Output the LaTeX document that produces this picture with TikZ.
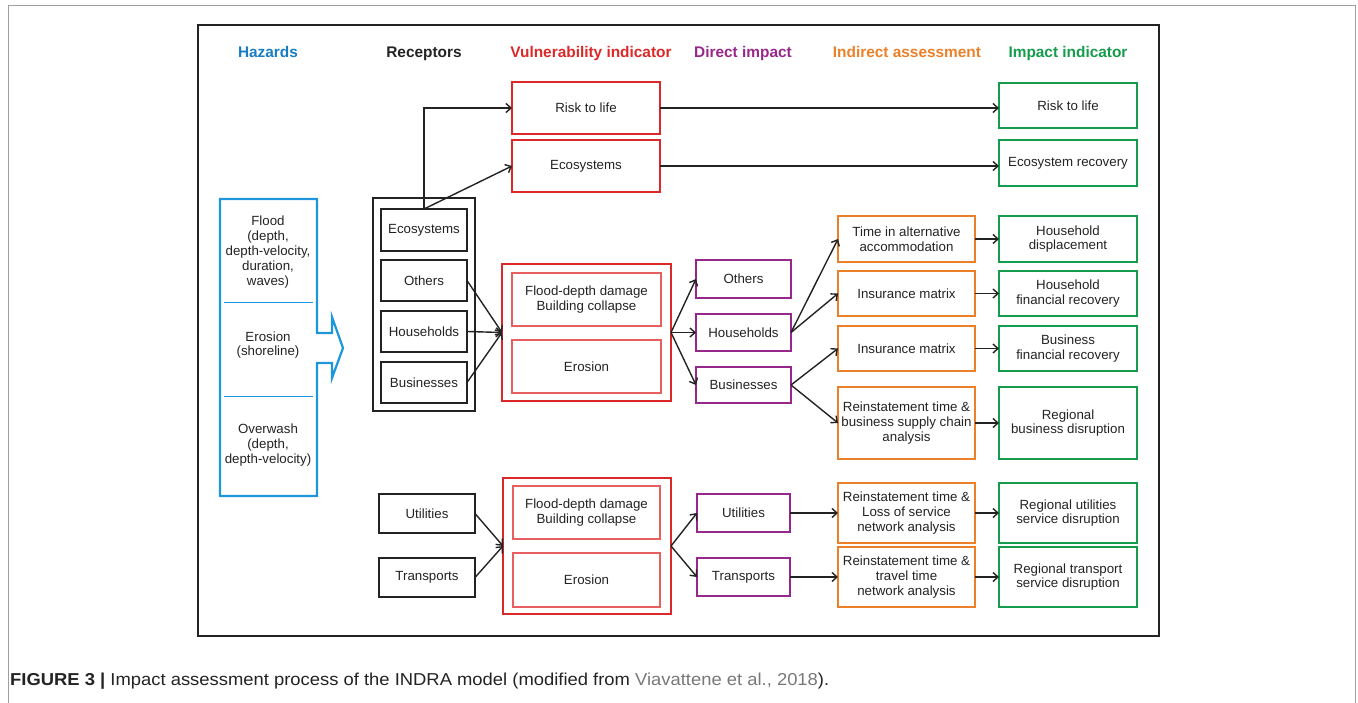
\documentclass[tikz,border=0pt]{standalone}
\usepackage{fontspec}
\setmainfont{Liberation Sans}
\usetikzlibrary{arrows.meta}

\definecolor{hzblue}{RGB}{30,150,220}
\definecolor{hztitle}{RGB}{25,125,195}
\definecolor{vred}{RGB}{220,40,40}
\definecolor{vredlt}{RGB}{232,95,95}
\definecolor{dpurple}{RGB}{150,40,140}
\definecolor{iorange}{RGB}{236,128,40}
\definecolor{kgreen}{RGB}{20,155,75}
\definecolor{ink}{RGB}{35,35,35}
\definecolor{cite}{RGB}{120,120,120}

\newcommand\bodyfont{\fontsize{13.3}{14.8}\selectfont}
\newcommand\titlefont{\bfseries\fontsize{15.4}{18}\selectfont}

% box from its corners: name, style, x1, y1, x2, y2, text
\newcommand\bx[7]{%
  \node[#2, minimum width={#5-#3}, minimum height={#6-#4}]
    (#1) at ({(#3+#5)/2},{(#4+#6)/2}) {#7};}

\tikzset{
  box/.style={draw, inner sep=0pt, outer sep=0pt, align=center,
              font=\bodyfont, text=ink},
  rec/.style={box, draw=ink, line width=1.2pt},
  recthick/.style={box, draw=ink, line width=2.6pt},
  vul/.style={box, draw=vred, line width=2.2pt},
  vulin/.style={box, draw=vredlt, line width=1.3pt},
  dir/.style={box, draw=dpurple, line width=2.2pt},
  ind/.style={box, draw=iorange, line width=2.2pt},
  imp/.style={box, draw=kgreen, line width=2.2pt},
  ttl/.style={font=\titlefont, inner sep=0pt, anchor=base},
  link/.style={draw=ink, line width=1.4pt,
               -{Straight Barb[length=5pt,width=9pt]}},
}

\begin{document}
\begin{tikzpicture}[x=1pt, y=-1pt]
\useasboundingbox (0,0) rectangle (1358,703);

% page and figure frames
\draw[gray!75, line width=1pt] (8,703) -- (8,6) -- (1355,6) -- (1355,703);
\draw[ink, line width=2pt] (198,25) rectangle (1159,636);

% column titles
\node[ttl, text=hztitle] (tHaz) at (268,58) {Hazards};
\node[ttl, text=ink] (tRec) at (424,58) {Receptors};
\node[ttl, text=vred] (tVul) at (591,58) {Vulnerability indicator};
\node[ttl, text=dpurple] (tDir) at (743,58) {Direct impact};
\node[ttl, text=iorange] (tInd) at (907,58) {Indirect assessment};
\node[ttl, text=kgreen] (tImp) at (1068,58) {Impact indicator};

% hazards block arrow
\draw[hzblue, line width=2.2pt, line join=miter]
  (220,199) -- (317,199) -- (317,333) -- (332,333) -- (332,317)
  -- (343,348) -- (332,378) -- (332,363) -- (317,363) -- (317,496)
  -- (220,496) -- cycle;
\draw[hzblue, line width=1pt] (224,303) -- (313,303);
\draw[hzblue, line width=1pt] (224,396) -- (313,396);
\node[align=center, font=\bodyfont, text=ink, inner sep=0pt] (hFlood) at (268,252)
  {Flood\\(depth,\\depth-velocity,\\duration,\\waves)};
\node[align=center, font=\bodyfont, text=ink, inner sep=0pt] (hEro) at (268,345)
  {Erosion\\(shoreline)};
\node[align=center, font=\bodyfont, text=ink, inner sep=0pt] (hOver) at (268,445)
  {Overwash\\(depth,\\depth-velocity)};

% receptors
\bx{recGroup}{recthick}{373}{198}{475}{411}{}
\bx{rEco}{rec}{381}{209}{467}{251}{Ecosystems}
\bx{rOth}{rec}{381}{260}{467}{301}{Others}
\bx{rHou}{rec}{381}{311}{467}{352}{Households}
\bx{rBus}{rec}{381}{362}{467}{403}{Businesses}
\bx{rUti}{recthick}{379}{494}{475}{533}{Utilities}
\bx{rTra}{recthick}{379}{558}{475}{597}{Transports}

% vulnerability indicators
\bx{vRisk}{vul}{512}{82}{660}{134}{Risk to life}
\bx{vEco}{vul}{512}{140}{660}{192}{Ecosystems}
\bx{vUp}{vul}{502}{264}{671}{401}{}
\bx{vUpA}{vulin}{512}{273}{661}{326}{Flood-depth damage\\Building collapse}
\bx{vUpB}{vulin}{512}{340}{661}{393}{Erosion}
\bx{vLo}{vul}{503}{478}{671}{614}{}
\bx{vLoA}{vulin}{513}{486}{660}{539}{Flood-depth damage\\Building collapse}
\bx{vLoB}{vulin}{513}{553}{660}{607}{Erosion}

% direct impacts
\bx{dOth}{dir}{696}{260}{791}{298}{Others}
\bx{dHou}{dir}{696}{314}{791}{351}{Households}
\bx{dBus}{dir}{696}{367}{791}{403}{Businesses}
\bx{dUti}{dir}{697}{494}{790}{532}{Utilities}
\bx{dTra}{dir}{697}{558}{790}{596}{Transports}

% indirect assessments
\bx{o1}{ind}{838}{216}{975}{262}{Time in alternative\\accommodation}
\bx{o2}{ind}{838}{271}{975}{316}{Insurance matrix}
\bx{o3}{ind}{838}{326}{975}{371}{Insurance matrix}
\bx{o4}{ind}{838}{387}{975}{459}{Reinstatement time \&\\business supply chain\\analysis}
\bx{o5}{ind}{838}{483}{975}{543}{Reinstatement time \&\\Loss of service\\network analysis}
\bx{o6}{ind}{838}{547}{975}{607}{Reinstatement time \&\\travel time\\network analysis}

% impact indicators
\bx{gRisk}{imp}{999}{83}{1137}{128}{Risk to life}
\bx{gEco}{imp}{999}{140}{1137}{186}{Ecosystem recovery}
\bx{g1}{imp}{999}{216}{1137}{262}{Household\\displacement}
\bx{g2}{imp}{999}{271}{1137}{316}{Household\\financial recovery}
\bx{g3}{imp}{999}{326}{1137}{371}{Business\\financial recovery}
\bx{g4}{imp}{999}{387}{1137}{459}{Regional\\business disruption}
\bx{g5}{imp}{999}{483}{1137}{543}{Regional utilities\\service disruption}
\bx{g6}{imp}{999}{547}{1137}{607}{Regional transport\\service disruption}

% connectors
\draw[link] (rEco.north) |- (vRisk.west);
\draw[link] (rEco.north) -- (vEco.west);
\draw[link] (vRisk.east) -- (vRisk.east -| gRisk.west);
\draw[link] (vEco.east) -- (vEco.east -| gEco.west);

\draw[link] (rOth.east) -- (vUp.west);
\draw[link] (rHou.east) -- (vUp.west);
\draw[link] (rBus.east) -- (vUp.west);
\draw[link] (vUp.east) -- (dOth.west);
\draw[link] (vUp.east) -- (dHou.west);
\draw[link] (vUp.east) -- (dBus.west);
\draw[link] (dHou.east) -- (o1.west);
\draw[link] (dHou.east) -- (o2.west);
\draw[link] (dBus.east) -- (o3.west);
\draw[link] (dBus.east) -- (o4.west);

\draw[link] (rUti.east) -- (vLo.west);
\draw[link] (rTra.east) -- (vLo.west);
\draw[link] (vLo.east) -- (dUti.west);
\draw[link] (vLo.east) -- (dTra.west);
\draw[link] (dUti.east) -- (o5.west);
\draw[link] (dTra.east) -- (o6.west);

\foreach \i in {1,...,6} \draw[link] (o\i.east) -- (g\i.west);

% caption
\node[anchor=base west, inner sep=0pt, text=ink] (caption) at (10,685)
  {\resizebox{819pt}{12.5pt}{\fontsize{17}{20}\selectfont\textbf{FIGURE 3 |} Impact assessment process of the INDRA model (modified from \textcolor{cite}{Viavattene et al., 2018}).}};
\end{tikzpicture}
\end{document}
